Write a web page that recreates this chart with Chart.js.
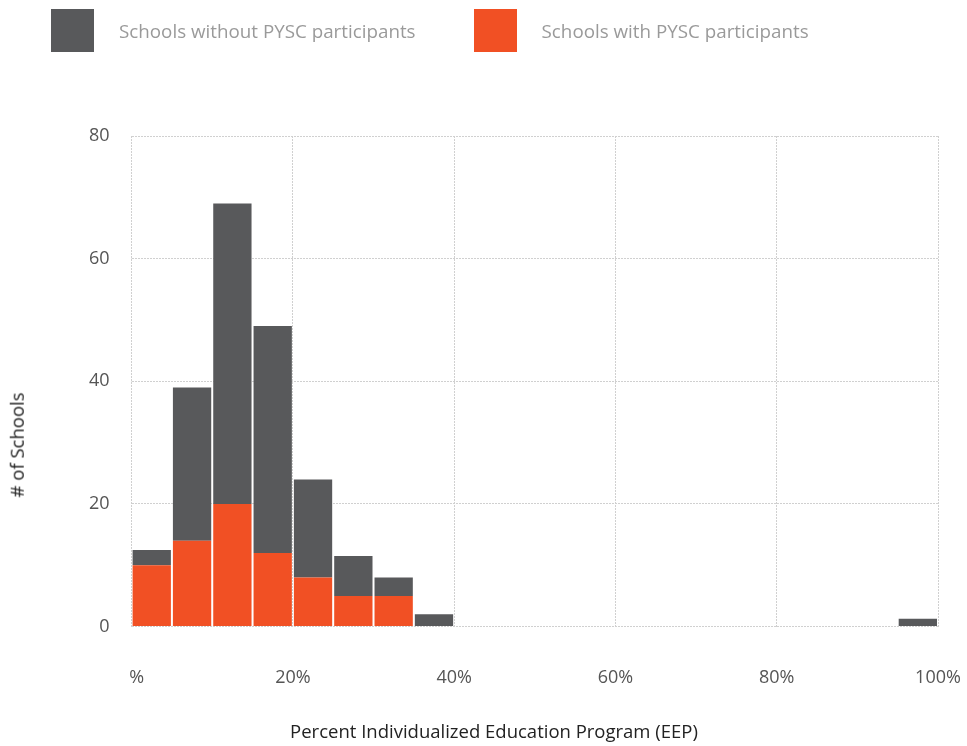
<!DOCTYPE html>
<html>
<head>
<meta charset="utf-8">
<script src="https://cdn.jsdelivr.net/npm/chart.js@4"></script>
<style>
  body { margin: 0; background: #fff; font-family: "Open Sans", sans-serif; }
  #wrap { position: relative; width: 967px; height: 746px; }
  #legend { position: absolute; left: 51px; top: 9px; display: flex; }
  .item { display: flex; align-items: center; margin-right: 58px; }
  .box { width: 43px; height: 43px; margin-right: 25px; }
  .label { color: #9a9a9a; font-size: 18.8px; }
  .axis-title { position: absolute; color: #222; font-size: 18.5px; white-space: nowrap; line-height: 1; }
  #xTitle { left: 494px; top: 731px; transform: translate(-50%, -50%); }
  #yTitle { left: 17px; top: 445px; transform: translate(-50%, -50%) rotate(-90deg); }
</style>
</head>
<body>
<div id="wrap">
  <div id="legend">
    <div class="item"><div class="box" style="background:#58595b"></div><span class="label">Schools without PYSC participants</span></div>
    <div class="item"><div class="box" style="background:#f15024"></div><span class="label">Schools with PYSC participants</span></div>
  </div>
  <canvas id="myChart" width="967" height="746"></canvas>
  <div class="axis-title" id="xTitle">Percent Individualized Education Program (EEP)</div>
  <div class="axis-title" id="yTitle"># of Schools</div>
</div>
<script>
// bin start (percent IEP), 5% wide bins
const binStarts = [0, 5, 10, 15, 20, 25, 30, 35, 40, 45, 50, 55, 60, 65, 70, 75, 80, 85, 90, 95];
const withPysc = [10, 14, 20, 12, 8, 5, 5, 0, 0, 0, 0, 0, 0, 0, 0, 0, 0, 0, 0, 0];
const withoutPysc = [2.5, 25, 49, 37, 16, 6.5, 3, 2, 0, 0, 0, 0, 0, 0, 0, 0, 0, 0, 0, 1.3];
const xTicks = [0, 20, 40, 60, 80, 100];

function points(values) {
    return binStarts.map((b, i) => ({ x: b + 2.5, y: values[i] }));
}

const grid = {
    color: '#d0d0d0',
    lineWidth: 1,
    tickLength: 0,
    offset: false
};

const ctx = document.getElementById('myChart').getContext('2d');
const myChart = new Chart(ctx, {
    type: 'bar',
    data: {
        datasets: [
            {
                label: 'Schools with PYSC participants',
                data: points(withPysc),
                backgroundColor: '#f15024',
                borderWidth: 0,
                barPercentage: 0.95,
                categoryPercentage: 1
            },
            {
                label: 'Schools without PYSC participants',
                data: points(withoutPysc),
                backgroundColor: '#58595b',
                borderWidth: 0,
                barPercentage: 0.95,
                categoryPercentage: 1
            }
        ]
    },
    options: {
        responsive: false,
        animation: false,
        layout: { padding: { top: 136, right: 29, left: 67, bottom: 51 } },
        plugins: { legend: { display: false }, tooltip: { enabled: false } },
        scales: {
            x: {
                type: 'linear',
                stacked: true,
                min: 0,
                max: 100,
                offset: false,
                afterBuildTicks: axis => { axis.ticks = xTicks.map(v => ({ value: v })); },
                grid: grid,
                border: { display: false, dash: [2, 1] },
                ticks: {
                    padding: 0,
                    color: '#555',
                    font: { family: 'Open Sans', size: 18, lineHeight: 1.9 },
                    // empty first line pushes the labels down without widening the side padding
                    callback: v => ['', v === 0 ? '\u2007%' : v + '%']
                }
            },
            y: {
                stacked: true,
                min: 0,
                max: 80,
                ticks: {
                    stepSize: 20,
                    padding: 22,
                    color: '#555',
                    font: { family: 'Open Sans', size: 18 }
                },
                grid: grid,
                border: { display: false, dash: [2, 1] }
            }
        }
    }
});
</script>
</body>
</html>
